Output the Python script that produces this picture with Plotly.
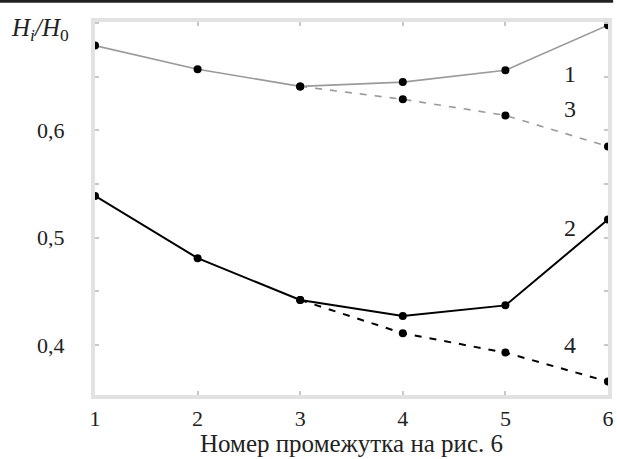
import plotly.graph_objects as go

x_vals = [1, 2, 3, 4, 5, 6]
series1 = [0.679, 0.657, 0.641, 0.645, 0.656, 0.698]
series3 = [None, None, 0.641, 0.629, 0.614, 0.585]
series2 = [0.539, 0.481, 0.442, 0.427, 0.437, 0.517]
series4 = [None, None, 0.442, 0.411, 0.393, 0.366]
curve_labels = ["1", "3", "2", "4"]
label_y = [0.653, 0.6195, 0.509, 0.4]
x_ticks = [1, 2, 3, 4, 5, 6]
y_ticks = [0.4, 0.5, 0.6]
y_tick_text = ["0,4", "0,5", "0,6"]

FONT = "Liberation Serif, Times New Roman, serif"

fig = go.Figure()
fig.add_trace(go.Scatter(x=x_vals, y=series1, mode="lines+markers", cliponaxis=False,
                         line=dict(color="#9a9a9a", width=1.6),
                         marker=dict(color="black", size=8)))
fig.add_trace(go.Scatter(x=x_vals, y=series3, mode="lines+markers", cliponaxis=False,
                         line=dict(color="#9a9a9a", width=1.6, dash="7px,8px"),
                         marker=dict(color="black", size=8)))
fig.add_trace(go.Scatter(x=x_vals, y=series2, mode="lines+markers", cliponaxis=False,
                         line=dict(color="black", width=2),
                         marker=dict(color="black", size=8)))
fig.add_trace(go.Scatter(x=x_vals, y=series4, mode="lines+markers", cliponaxis=False,
                         line=dict(color="black", width=2, dash="7px,8px"),
                         marker=dict(color="black", size=8)))

for t, yv in zip(curve_labels, label_y):
    fig.add_annotation(x=5.63, y=yv, text=t, showarrow=False,
                       font=dict(family=FONT, size=24, color="#222"))

fig.add_annotation(xref="paper", yref="paper", x=-0.168, y=0.979, xanchor="left",
                   yanchor="middle", showarrow=False,
                   text="<i>H</i><sub><i>i</i></sub><i>/H</i><sub>0</sub>",
                   font=dict(family=FONT, size=25, color="#222"))
fig.add_annotation(xref="paper", yref="paper", x=0.5, y=-0.13, xanchor="center",
                   yanchor="middle", showarrow=False,
                   text="Номер промежутка на рис. 6",
                   font=dict(family=FONT, size=25, color="#222"))

fig.add_shape(type="line", xref="paper", yref="paper",
              x0=-0.2, x1=1.01, y0=1.0555, y1=1.0555,
              line=dict(color="#222", width=3))

fig.update_layout(
    width=617, height=459,
    margin=dict(l=95, r=3, t=22, b=64),
    paper_bgcolor="white", plot_bgcolor="white",
    showlegend=False,
    font=dict(family=FONT, size=21, color="#222"),
)
fig.update_xaxes(range=[1, 6], tickvals=x_ticks, ticktext=[str(v) for v in x_ticks],
                 showgrid=False, zeroline=False,
                 showline=True, linecolor="#e2e2e2", linewidth=4, mirror="ticks",
                 ticks="inside", ticklen=4, tickcolor="#c8c8c8", tickwidth=2,
                 ticklabelstandoff=1, tickfont=dict(family=FONT, size=22))
fig.update_yaxes(range=[0.3535, 0.701], tickvals=y_ticks, ticktext=y_tick_text,
                 showgrid=False, zeroline=False,
                 showline=True, linecolor="#e2e2e2", linewidth=4, mirror="ticks",
                 ticks="inside", ticklen=4, tickcolor="#c8c8c8", tickwidth=2,
                 minor=dict(ticks="inside", ticklen=4, tickcolor="#c8c8c8", tickwidth=2,
                            tick0=0.35, dtick=0.05),
                 ticklabelstandoff=22, tickfont=dict(family=FONT, size=22))

fig.write_html("out.html", config={"displayModeBar": False},
               post_script="document.body.style.margin='0';document.body.style.overflow='hidden';")
